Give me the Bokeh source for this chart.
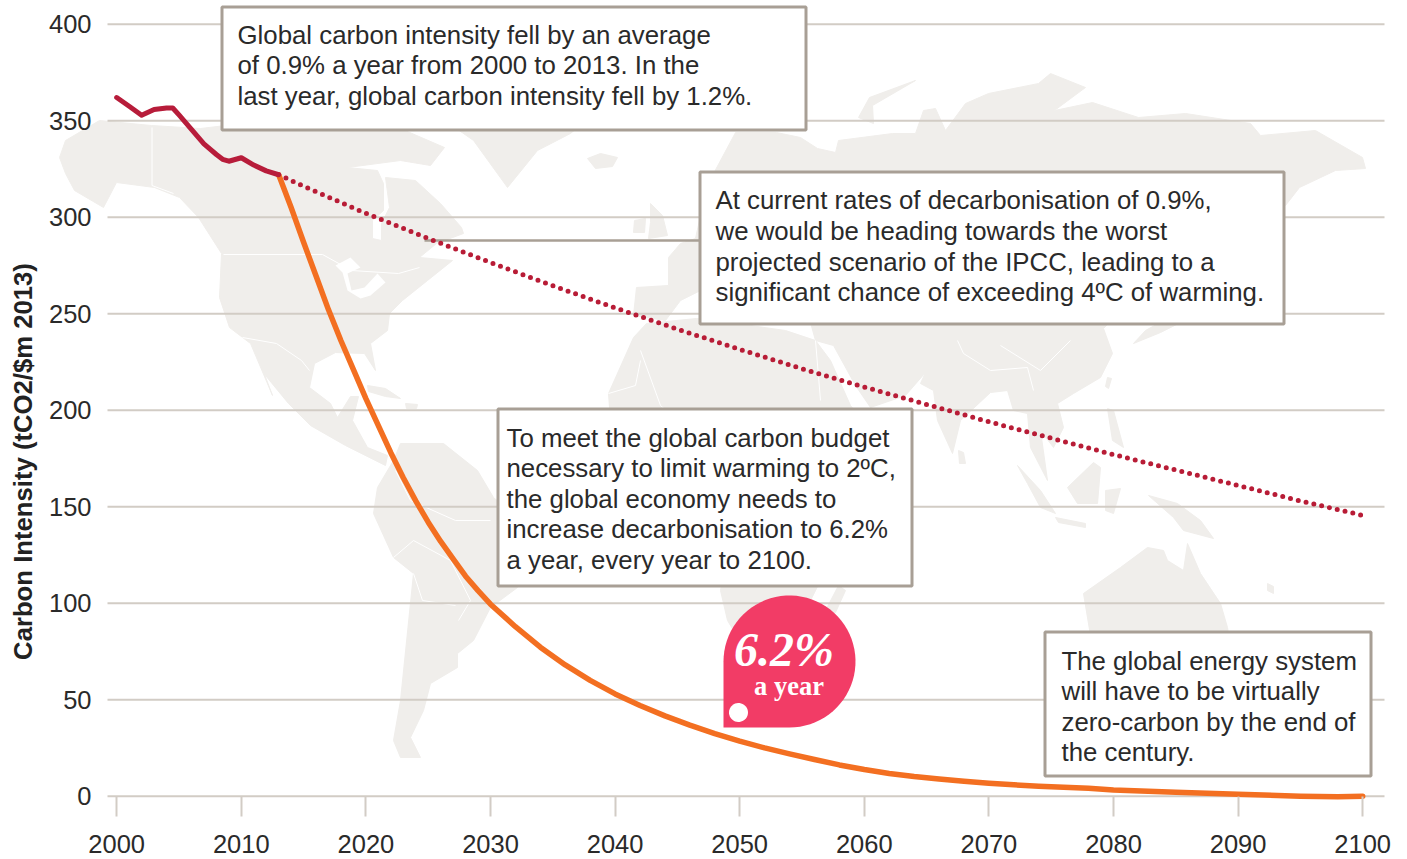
import numpy as np
from bokeh.plotting import figure
from bokeh.models import Label, FixedTicker, Range1d
from bokeh.embed import file_html
from bokeh.resources import INLINE

# ---------- data ----------
x_ticks = [2000, 2010, 2020, 2030, 2040, 2050, 2060, 2070, 2080, 2090, 2100]
y_ticks = [0, 50, 100, 150, 200, 250, 300, 350, 400]

history_years = [2000, 2001, 2002, 2003, 2004, 2004.5, 2005, 2006, 2007, 2008, 2008.5, 2009, 2010, 2011, 2012, 2013]
history_vals = [362, 357.5, 352.8, 355.8, 356.6, 356.6, 353, 345.5, 338, 332.5, 330, 329, 330.8, 327, 324, 322]

current_years = [2013, 2015, 2020, 2025, 2030, 2035, 2040, 2045, 2050, 2055, 2060, 2065, 2070, 2075, 2080, 2085, 2090, 2095, 2100]
current_vals = [322, 316, 302, 289, 276.5, 264.5, 253, 242, 231.5, 221.5, 212, 203, 194, 185.5, 177, 169, 161, 153, 145.5]

budget_years = [2013, 2014, 2015, 2016, 2017, 2018, 2019, 2020, 2021, 2022, 2023, 2024, 2025, 2026, 2027, 2028, 2029, 2030,
                2032, 2034, 2036, 2038, 2040, 2042, 2044, 2046, 2048, 2050, 2052, 2054, 2056, 2058, 2060, 2062, 2064, 2066,
                2068, 2070, 2072, 2074, 2076, 2078, 2080, 2085, 2090, 2095, 2098, 2100]
budget_vals = [322, 305, 287, 269.5, 252, 236, 221, 206, 192, 178, 165, 153, 142, 132, 123, 114, 106.5, 99.5,
               87.8, 77.2, 68, 60, 53, 47, 41.6, 36.8, 32.4, 28.5, 25, 21.9, 19, 16.2, 13.8, 11.8, 10.2, 8.9,
               7.7, 6.7, 5.9, 5.2, 4.7, 4.1, 3.2, 2, 1, 0, -0.3, 0]

box_texts = [
    (237, [34, 64.5, 95], ["Global carbon intensity fell by an average",
                           "of 0.9% a year from 2000 to 2013. In the",
                           "last year, global carbon intensity fell by 1.2%."]),
    (715, [199, 230, 261, 291.5], ["At current rates of decarbonisation of 0.9%,",
                                   "we would be heading towards the worst",
                                   "projected scenario of the IPCC, leading to a",
                                   "significant chance of exceeding 4ºC of warming."]),
    (506, [437, 467, 498, 528.5, 559], ["To meet the global carbon budget",
                                        "necessary to limit warming to 2ºC,",
                                        "the global economy needs to",
                                        "increase decarbonisation to 6.2%",
                                        "a year, every year to 2100."]),
    (1061, [660, 690, 721, 751], ["The global energy system",
                                  "will have to be virtually",
                                  "zero-carbon by the end of",
                                  "the century."]),
]

# decorative backdrop: rough world outline, traced in picture pixels
map_north_america = [(59,157),(65,140),(99,120),(151,125),(200,128),(225,125),(300,125),(400,128),(444,147),(430,165),(400,160),(347,167),(330,180),(347,167),(377,170),(383,183),(383,210),(372,220),(372,238),(381,240),(381,223),(389,207),(385,177),(415,180),(440,203),(461,227),(463,233),(436,243),(419,257),(452,260),(427,280),(402,300),(389,313),(387,330),(370,343),(375,370),(364,353),(335,352),(314,363),(309,387),(330,403),(337,417),(350,396),(358,396),(352,420),(367,447),(387,455),(385,465),(345,445),(310,425),(288,403),(265,375),(255,350),(272,395),(250,343),(229,327),(219,297),(221,253),(198,217),(179,197),(154,187),(116,182),(103,207),(74,190),(65,173)]
map_greenland = [(430,110),(473,140),(507,187),(537,150),(570,133),(610,100),(520,95)]
map_iceland = [(587,158),(600,153),(617,157),(612,166),(595,168)]
map_eurasia = [(680,243),(668,257),(668,285),(636,287),(633,315),(665,320),(680,300),(700,290),(720,290),(740,305),(770,310),(810,322),(815,340),(833,345),(855,385),(870,407),(905,395),(925,372),(920,383),(933,390),(937,420),(952,453),(960,420),(990,392),(1007,390),(1013,410),(1027,413),(1030,447),(1047,480),(1040,430),(1053,447),(1063,427),(1057,403),(1073,393),(1100,377),(1112,353),(1103,328),(1130,300),(1175,300),(1190,262),(1230,225),(1285,205),(1299,187),(1335,170),(1365,168),(1362,157),(1315,130),(1260,135),(1250,123),(1185,113),(1138,117),(1092,102),(1054,110),(1085,87),(1050,73),(1038,83),(988,93),(965,103),(945,130),(935,108),(923,110),(915,133),(892,133),(838,140),(835,152),(817,148),(800,137),(776,132),(735,132),(712,175),(700,215),(695,238)]
map_uk = [(650,203),(662,215),(667,235),(648,238),(650,222)]
map_ireland = [(634,220),(645,218),(644,232),(633,232)]
map_novaya = [(915,80),(869,97),(858,117),(873,123),(872,105)]
map_africa = [(646,323),(633,337),(608,393),(610,420),(635,445),(675,440),(700,450),(720,490),(725,560),(720,590),(727,620),(745,650),(775,650),(800,620),(825,570),(840,510),(870,470),(890,430),(870,430),(850,405),(830,360),(815,340),(785,330),(750,325),(696,318)]
map_madagascar = [(838,585),(845,590),(835,612),(825,610)]
map_south_america = [(400,443),(443,443),(477,470),(493,497),(520,520),(535,545),(517,587),(490,607),(473,640),(457,653),(457,667),(430,683),(423,710),(410,737),(420,757),(400,757),(393,740),(400,700),(413,573),(393,557),(373,513),(377,487),(393,460)]
map_cuba = [(367,385),(385,388),(400,398),(385,396),(368,391)]
map_hispaniola = [(405,403),(417,404),(416,408),(406,408)]
map_australia = [(1083,593),(1120,567),(1147,547),(1163,550),(1167,560),(1183,570),(1187,543),(1200,573),(1220,603),(1227,627),(1229,640),(1190,650),(1150,640),(1090,635)]
map_new_zealand = [(1267,583),(1273,586),(1273,593),(1267,590)]
map_sumatra = [(1017,465),(1040,490),(1055,513),(1040,507),(1027,483)]
map_borneo = [(1067,487),(1093,462),(1100,467),(1097,503),(1077,503)]
map_java = [(1055,517),(1085,523),(1085,527),(1058,522)]
map_sulawesi = [(1105,490),(1120,488),(1113,513),(1105,510)]
map_new_guinea = [(1148,495),(1177,503),(1200,520),(1213,538),(1183,530),(1173,517)]
map_philippines = [(1107,408),(1113,410),(1123,447),(1112,440)]
map_taiwan = [(1107,377),(1111,378),(1108,388),(1105,386)]
map_sri_lanka = [(958,450),(963,452),(965,463),(959,463)]
map_japan = [(1133,343),(1160,332),(1180,322),(1172,315),(1145,330)]
map_shapes = [map_north_america, map_greenland, map_iceland, map_eurasia, map_uk, map_ireland, map_novaya,
              map_africa, map_madagascar, map_south_america, map_cuba, map_hispaniola, map_australia, map_new_zealand,
              map_sumatra, map_borneo, map_java, map_sulawesi, map_new_guinea, map_philippines, map_taiwan,
              map_sri_lanka, map_japan]
map_great_lakes = [(335,265),(350,257),(360,267),(347,273),(351,290),(364,287),(377,273),(385,282),(370,295),(360,298),(347,290),(342,272)]
map_borders = [[(151.5,127),(151.5,185),(173,193)], [(223,254),(322,254),(351,270),(398,273),(419,267)],
               [(242,337),(276,343),(301,360),(309,370)], [(395,470),(410,500),(455,520),(490,520)],
               [(393,557),(413,540),(450,560),(470,600),(458,620)], [(413,573),(422,600),(455,605)],
               [(640,350),(660,405),(700,440)], [(815,340),(820,400)], [(957,340),(963,353),(990,370),(1027,367),(1033,390)],
               [(1000,345),(1040,370),(1070,340)], [(608,393),(635,385),(640,360)]]

# ---------- picture geometry ----------
W, H = 1407, 859
GRID_L, GRID_R = 107, 1384
PX_X0, PX_PER_YEAR = 116.2, 12.46
PX_Y0, PX_PER_UNIT = 795.7, 1.93

def X(px):
    return 2000 + (np.asarray(px, dtype=float) - PX_X0) / PX_PER_YEAR

def Y(px):
    return (PX_Y0 - np.asarray(px, dtype=float)) / PX_PER_UNIT

GRID = "#d2ccc5"
BORDER = "#a89f95"
TEXT = "#2a2a2a"
LAND = "#f0eeeb"
FONT = "Liberation Sans"

p = figure(width=W, height=H, output_backend="svg", toolbar_location=None,
           x_range=Range1d(float(X(0)), float(X(W))), y_range=Range1d(float(Y(H)), float(Y(0))),
           min_border=0)
p.outline_line_color = None
p.background_fill_color = "white"
p.grid.visible = False

p.xaxis.fixed_location = 0
p.xaxis.ticker = FixedTicker(ticks=x_ticks)
p.xaxis.axis_line_color = None
p.xaxis.major_tick_line_color = GRID
p.xaxis.major_tick_line_width = 2
p.xaxis.major_tick_in = 0
p.xaxis.major_tick_out = 20
p.xaxis.minor_tick_line_color = None
p.xaxis.major_label_standoff = 19
p.xaxis.major_label_text_font = FONT
p.xaxis.major_label_text_font_size = "25.5px"
p.xaxis.major_label_text_color = TEXT

p.yaxis.fixed_location = float(X(GRID_L))
p.yaxis.ticker = FixedTicker(ticks=y_ticks)
p.yaxis.axis_line_color = None
p.yaxis.major_tick_line_color = None
p.yaxis.minor_tick_line_color = None
p.yaxis.major_label_standoff = 10
p.yaxis.major_label_text_font = FONT
p.yaxis.major_label_text_font_size = "25.5px"
p.yaxis.major_label_text_color = TEXT

# backdrop map
p.patches([X([q[0] for q in s]).tolist() for s in map_shapes],
          [Y([q[1] for q in s]).tolist() for s in map_shapes],
          fill_color=LAND, line_color=LAND, line_width=1, level="underlay")
p.patch(X([q[0] for q in map_great_lakes]).tolist(), Y([q[1] for q in map_great_lakes]).tolist(),
        fill_color="white", line_color=None, level="underlay")
p.multi_line([X([q[0] for q in s]).tolist() for s in map_borders],
             [Y([q[1] for q in s]).tolist() for s in map_borders],
             line_color="white", line_width=1, level="underlay")

# gridlines at the tick values
p.segment(x0=[float(X(GRID_L))] * len(y_ticks), x1=[float(X(GRID_R))] * len(y_ticks), y0=y_ticks, y1=y_ticks,
          line_color=GRID, line_width=2)

# connector of the middle callout
p.line(X([424, 700]).tolist(), Y([240, 240]).tolist(), line_color=BORDER, line_width=2.5)

# series
p.line(current_years, current_vals, line_color="#b81c36", line_width=5, line_dash="0 8", line_cap="round")
p.line(budget_years, budget_vals, line_color="#f36f21", line_width=5.5, line_cap="round", line_join="round")
p.line(history_years, history_vals, line_color="#b71c3a", line_width=5, line_cap="round", line_join="round")

# callout boxes (outer pixel extents)
for l, r, t, b in [(220, 807, 5, 131), (698, 1285, 170, 325), (496, 913, 407, 587), (1043, 1372, 630, 777)]:
    p.quad(left=[float(X(l + 1.5))], right=[float(X(r - 1.5))], top=[float(Y(t + 1.5))], bottom=[float(Y(b - 1.5))],
           fill_color="white", line_color=BORDER, line_width=3)

# 6.2% badge
ang = np.radians(np.linspace(-90, 180, 60))
bx = 789 + 66 * np.cos(ang)
by = 661 - 66 * np.sin(ang)
bx = np.concatenate([bx, [723, 723, 789]])
by = np.concatenate([by, [661, 727, 727]])
p.patch(X(bx).tolist(), Y(by).tolist(), fill_color="#f23c66", line_color=None)
ang2 = np.radians(np.linspace(0, 360, 40))
p.patch(X(738 + 9.5 * np.cos(ang2)).tolist(), Y(712 + 9.5 * np.sin(ang2)).tolist(), fill_color="white", line_color=None)

def lab(px, py, text, size, color=TEXT, font=FONT, style="normal", align="left", angle=0):
    p.add_layout(Label(x=float(X(px)), y=float(Y(py)), text=text, text_font=font, text_font_size=size,
                       text_color=color, text_font_style=style, text_align=align, text_baseline="middle",
                       angle=angle, angle_units="deg"))

for px, ys, lines in box_texts:
    for py, line in zip(ys, lines):
        lab(px, py, line, "25.8px")

lab(783.5, 649, "6.2%", "48px", color="white", font="Liberation Serif", style="bold italic", align="center")
lab(788.5, 685, "a year", "26.5px", color="white", font="Liberation Serif", style="bold", align="center")
lab(22, 461, "Carbon Intensity (tCO2/$m 2013)", "25.7px", color="#222222", style="bold", align="center", angle=90)

open("out.html", "w").write(file_html(p, INLINE))
